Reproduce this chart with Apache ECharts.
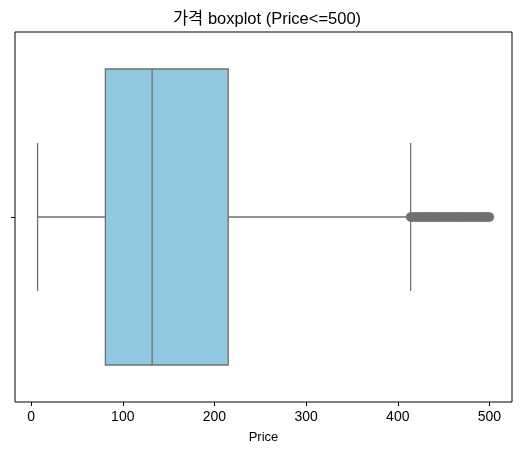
<!DOCTYPE html>
<html><head><meta charset="utf-8">
<script src="https://cdn.jsdelivr.net/npm/echarts@6/dist/echarts.min.js"></script>
<style>html,body{margin:0;padding:0;background:#fff}#c{width:520px;height:455px}</style>
</head><body><div id="c"></div>
<script>
const categories = ['Price'];
// [lower whisker, Q1, median, Q3, upper whisker]
const boxStats = [[7, 81, 132, 215, 414]];
const outliers = [414,416,418,420,422,424,426,428,430,432,434,436,438,440,442,444,446,448,450,452,454,456,458,460,462,464,466,468,470,472,474,476,478,480,482,484,486,488,490,492,494,496,498,500];
const xTicks = [0, 100, 200, 300, 400, 500];

const font = '"Liberation Sans", "Noto Sans CJK KR", sans-serif';
const lineColor = '#707070';
const chart = echarts.init(document.getElementById('c'), null, {renderer: 'canvas'});

function renderBox(params, api) {
  const cat = api.value(0);
  const band = api.size([0, 1])[1];
  const vals = [1, 2, 3, 4, 5].map(i => api.coord([api.value(i), cat]));
  const cy = vals[0][1];
  const boxH = band * 0.8, capH = band * 0.4;
  const x = vals.map(p => p[0]);
  const ls = {stroke: lineColor, lineWidth: 1.3, fill: null};
  return {
    type: 'group',
    children: [
      {type: 'line', shape: {x1: x[0], y1: cy, x2: x[1], y2: cy}, style: ls},
      {type: 'line', shape: {x1: x[3], y1: cy, x2: x[4], y2: cy}, style: ls},
      {type: 'line', shape: {x1: x[0], y1: cy - capH / 2, x2: x[0], y2: cy + capH / 2}, style: ls},
      {type: 'line', shape: {x1: x[4], y1: cy - capH / 2, x2: x[4], y2: cy + capH / 2}, style: ls},
      {type: 'rect', shape: {x: x[1], y: cy - boxH / 2, width: x[3] - x[1], height: boxH},
        style: {fill: '#90C9DF', stroke: lineColor, lineWidth: 1.3}},
      {type: 'line', shape: {x1: x[2], y1: cy - boxH / 2, x2: x[2], y2: cy + boxH / 2}, style: ls}
    ]
  };
}

chart.setOption({
  animation: false,
  title: {
    text: '가격 boxplot (Price<=500)',
    left: 262, top: 6, textAlign: 'center',
    textStyle: {fontFamily: font, fontSize: 16.5, fontWeight: 'normal', color: '#000'}
  },
  grid: {left: 15, right: 8, top: 32, bottom: 53, show: true, borderColor: '#000', borderWidth: 1, backgroundColor: 'transparent'},
  xAxis: {
    type: 'value', min: -17.6, max: 524.6,
    name: 'Price', nameLocation: 'middle', nameGap: 29,
    nameTextStyle: {fontFamily: font, fontSize: 13, color: '#000'},
    axisLine: {show: false, onZero: false},
    axisTick: {show: true, length: 4, lineStyle: {color: '#000'}, customValues: xTicks},
    axisLabel: {fontFamily: font, fontSize: 14, color: '#000', margin: 8, customValues: xTicks},
    splitLine: {show: false}
  },
  yAxis: {
    type: 'category', data: categories, inverse: true,
    axisLine: {show: false, onZero: false},
    axisTick: {show: true, alignWithLabel: true, length: 4, lineStyle: {color: '#000'}},
    axisLabel: {show: false},
    splitLine: {show: false}
  },
  series: [
    {
      type: 'custom', renderItem: renderBox,
      data: boxStats.map((s, i) => [i].concat(s)),
      encode: {x: [1, 2, 3, 4, 5], y: 0}
    },
    {
      type: 'scatter', symbol: 'circle', symbolSize: 9,
      data: outliers.map(v => [v, 0]),
      itemStyle: {color: lineColor, borderColor: lineColor, borderWidth: 0.5, opacity: 1}
    }
  ]
});
</script></body></html>
